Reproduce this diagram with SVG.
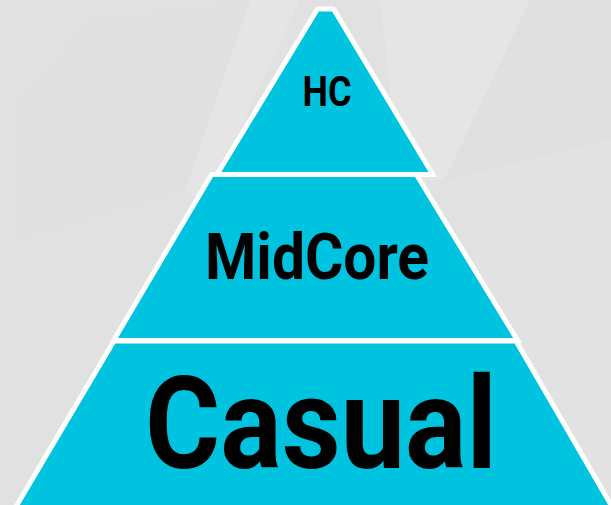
<svg xmlns="http://www.w3.org/2000/svg" width="611" height="505" viewBox="0 0 611 505">
  <style>
    .tier { fill: #00C3DF; stroke: #FFFFFF; stroke-width: 5; stroke-linejoin: miter; }
    .label { font-family: Roboto, "Liberation Sans", sans-serif; font-weight: 700; fill: #000000; text-anchor: middle; }
    .facet { stroke: none; }
  </style>

  <!-- backdrop with faint faceted planes -->
  <rect width="611" height="505" fill="#E1E1E1"/>
  <g id="backdrop">
    <polygon class="facet" points="250,0 300,0 205,205 185,190" fill="#E5E5E5"/>
    <polygon class="facet" points="20,100 90,20 250,0 185,190 20,240" fill="#E0E0E0"/>
    <polygon class="facet" points="380,0 530,0 445,180 400,180" fill="#E5E5E5"/>
    <polygon class="facet" points="530,0 611,0 611,140 445,180" fill="#E0E0E0"/>
    <polygon class="facet" points="445,180 611,140 611,505 560,505" fill="#E2E2E2"/>
  </g>

  <!-- bottom tier -->
  <g id="casual">
    <polygon class="tier" points="113.9,341 516,341 614,510 14,510"/>
    <text class="label" x="321" y="468" font-size="128" textLength="352" lengthAdjust="spacingAndGlyphs">Casual</text>
  </g>

  <!-- middle tier -->
  <g id="midcore">
    <polygon class="tier" points="211.6,174.5 416.4,174.5 517.6,340.5 113.6,340.5"/>
    <text class="label" x="317" y="279" font-size="64" textLength="224" lengthAdjust="spacingAndGlyphs">MidCore</text>
  </g>

  <!-- top tier -->
  <g id="hc">
    <polygon class="tier" points="317.5,9 333.5,9 432.8,174.5 217,174.5"/>
    <text class="label" x="327" y="106" font-size="43" textLength="49" lengthAdjust="spacingAndGlyphs">HC</text>
  </g>
</svg>
